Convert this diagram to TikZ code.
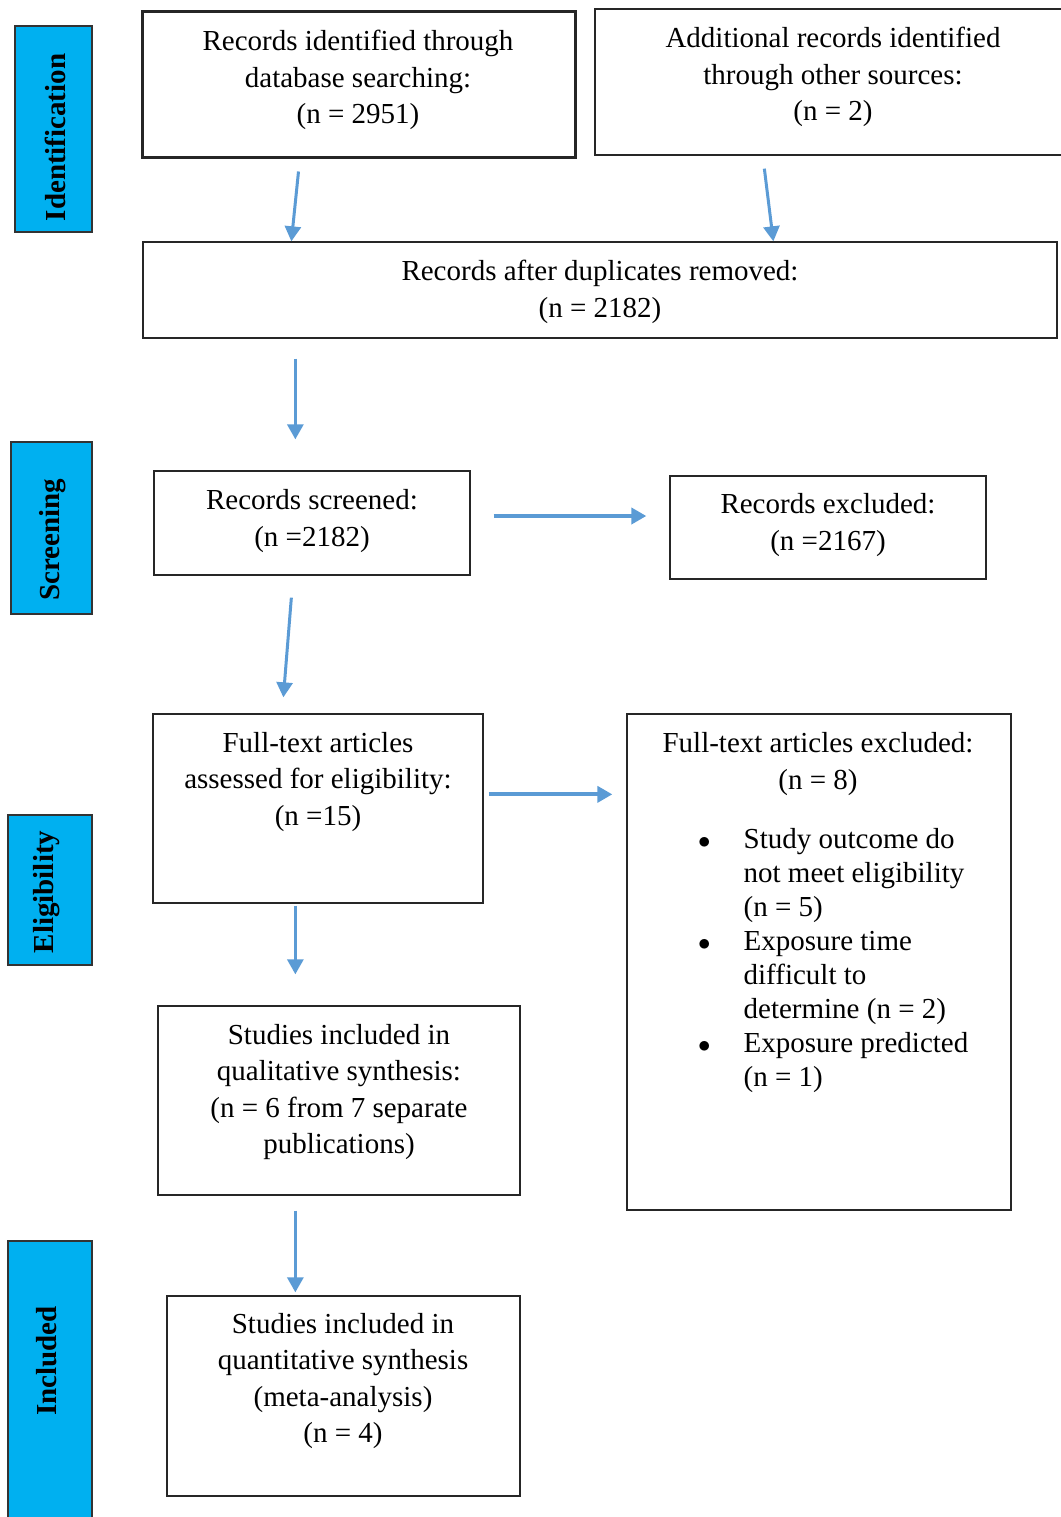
\documentclass[tikz,border=0pt]{standalone}
\usepackage{fontspec}
\setmainfont{Liberation Serif}
\usepackage{tikz}
\usetikzlibrary{arrows.meta}
\definecolor{stageblue}{HTML}{00B0F0}
\definecolor{arrowblue}{HTML}{5B9BD5}
\tikzset{
  stage box/.style={
    rectangle,
    draw=black!80,
    fill=stageblue,
    line width=1.3pt,
    inner sep=0pt
  },
  stage label/.style={
    rotate=90,
    inner sep=0pt,
    font=\fontsize{29}{36.5}\selectfont\bfseries
  },
  flow box/.style={
    rectangle,
    draw=black!85,
    line width=1.3pt,
    inner sep=0pt
  },
  flow text/.style={
    align=center,
    inner sep=0pt
  },
  flow arrow/.style={
    draw=arrowblue,
    line width=3pt,
    -{Triangle[length=15pt,width=16pt]}
  }
}

\begin{document}
\begin{tikzpicture}[x=1pt, y=-1pt, font=\fontsize{29}{36.5}\selectfont]
  \useasboundingbox (0,0) rectangle (1060,1517);

  % Stage bars
  \node [stage box, minimum width=77pt, minimum height=206pt] (P1) at (53.5,129) {};
  \node [stage box, minimum width=81pt, minimum height=172pt] (P2) at (51.5,528) {};
  \node [stage box, minimum width=84pt, minimum height=150pt] (P3) at (50,890) {};
  \node [stage box, minimum width=84pt, minimum height=289pt] (P4) at (50,1385.5) {};
  \node (PP1) at (55,137.5) [stage label] {Identification};
  \node (PP2) at (53,540) [stage label] {Screening};
  \node (PP3) at (47,892) [stage label] {Eligibility};
  \node (PP4) at (47,1361) [stage label] {Included};

  % Node placement
  \node [flow box, line width=3pt, minimum width=433pt, minimum height=146pt] (ID1) at (358.5,85) {};
  \node [flow box, minimum width=480pt, minimum height=146pt] (ID2) at (835,82) {};
  \node [flow box, minimum width=914pt, minimum height=96pt] (ID3) at (600,290) {};
  \node [flow box, minimum width=316pt, minimum height=104pt] (SC1) at (312,523) {};
  \node [flow box, minimum width=316pt, minimum height=103pt] (SC2) at (828,527.5) {};
  \node [flow box, minimum width=330pt, minimum height=189pt] (EL1) at (318,808.5) {};
  \node [flow box, minimum width=384pt, minimum height=496pt] (EL2) at (819,962) {};
  \node [flow box, minimum width=362pt, minimum height=189pt] (IN1) at (339,1100.5) {};
  \node [flow box, minimum width=353pt, minimum height=200pt] (IN2) at (343.5,1396) {};

  \node (TID1) at (358,80) [flow text] {Records identified through\\database searching:\\(n = 2951)};
  \node (TID2) at (833,77) [flow text] {Additional records identified\\through other sources:\\(n = 2)};
  \node (TID3) at (600,292) [flow text] {Records after duplicates removed:\\(n = 2182)};
  \node (TSC1) at (312,521) [flow text] {Records screened:\\(n =2182)};
  \node (TSC2) at (828,525) [flow text] {Records excluded:\\(n =2167)};
  \node (TEL1) at (318,782) [flow text] {Full-text articles\\assessed for eligibility:\\(n =15)};
  \node (TEL2) at (818,764) [flow text] {Full-text articles excluded:\\(n = 8)};
  \node (TEL2b) at (698,824) [anchor=north west, inner sep=0pt, font=\fontsize{29}{34}\selectfont]
    {\begin{tabular}{@{}c@{\hspace{33pt}}l@{}}
      $\bullet$ & Study outcome do\\
                & not meet eligibility\\
                & (n = 5)\\
      $\bullet$ & Exposure time\\
                & difficult to\\
                & determine (n = 2)\\
      $\bullet$ & Exposure predicted\\
                & (n = 1)
    \end{tabular}};
  \node (TIN1) at (339,1092) [flow text] {Studies included in\\qualitative synthesis:\\(n = 6 from 7 separate\\publications)};
  \node (TIN2) at (343,1381) [flow text] {Studies included in\\quantitative synthesis\\(meta-analysis)\\(n = 4)};

  % Arrows
  \draw [flow arrow] ([shift={(158,12)}]ID1.south west) -- ([xshift=149pt]ID3.north west);
  \draw [flow arrow] ([shift={(170,13)}]ID2.south west) -- ([xshift=631pt]ID3.north west);
  \draw [flow arrow] ([shift={(153,20)}]ID3.south west) -- ([shift={(142,-31)}]SC1.north west);
  \draw [flow arrow, line width=4pt] ([shift={(23,-7)}]SC1.east) -- ([shift={(-23,-11.5)}]SC2.west);
  \draw [flow arrow] ([shift={(138,22)}]SC1.south west) -- ([shift={(131,-16)}]EL1.north west);
  \draw [flow arrow, line width=4pt] ([shift={(5,81)}]EL1.north east) -- ([shift={(-14,81)}]EL2.north west);
  \draw [flow arrow] ([shift={(143,2)}]EL1.south west) -- ([shift={(138,-31)}]IN1.north west);
  \draw [flow arrow] ([shift={(138,15)}]IN1.south west) -- ([shift={(129,-3)}]IN2.north west);
\end{tikzpicture}
\end{document}
